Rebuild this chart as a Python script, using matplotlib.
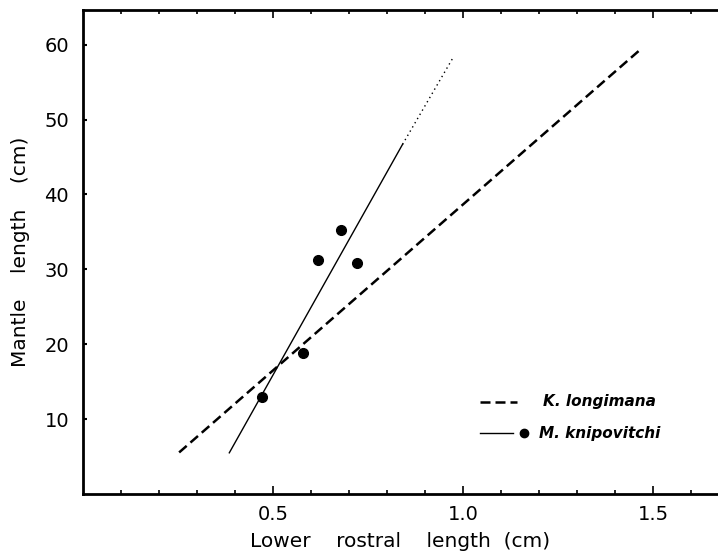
import matplotlib
matplotlib.use("Agg")
import matplotlib.pyplot as plt
import numpy as np

# Data
km_x = [0.472, 0.578, 0.619, 0.678, 0.722]      # M. knipovitchi observations
km_y = [13.0, 18.8, 31.3, 35.2, 30.9]
km_line_x = [0.385, 0.841]                      # fitted line (solid)
km_line_y = [5.5, 46.7]
km_ext_x = [0.841, 0.973]                       # extrapolation (dotted)
km_ext_y = [46.7, 58.2]
kl_line_x = [0.253, 1.470]                      # K. longimana line (dashed)
kl_line_y = [5.55, 59.5]

x_major = [0.5, 1.0, 1.5]
x_major_labels = ["0.5", "1.0", "1.5"]
x_minor = [0.1, 0.2, 0.3, 0.4, 0.6, 0.7, 0.8, 0.9, 1.1, 1.2, 1.3, 1.4, 1.6]
y_major = [10, 20, 30, 40, 50, 60]
y_major_labels = ["10", "20", "30", "40", "50", "60"]

fig = plt.figure(figsize=(7.18, 5.56), dpi=100)
ax = fig.add_axes([83/718, 62/556, 635/718, 484.5/556])

ax.plot(kl_line_x, kl_line_y, color="black", lw=1.8, dashes=(4, 2),
        solid_capstyle="butt", dash_capstyle="butt")
ax.plot(km_line_x, km_line_y, color="black", lw=1.0)
ax.plot(km_ext_x, km_ext_y, color="black", lw=1.0, linestyle=(0, (1, 2.5)))
ax.plot(km_x, km_y, "o", color="black", markersize=7, linestyle="none")

ax.set_xlim(0, 1.671)
ax.set_ylim(0, 64.7)

ax.set_xticks(x_major)
ax.set_xticklabels(x_major_labels)
ax.set_xticks(x_minor, minor=True)
ax.set_yticks(y_major)
ax.set_yticklabels(y_major_labels)

ax.tick_params(axis="x", which="major", direction="in", length=6, width=1.2, top=True, labelsize=14, pad=8)
ax.tick_params(axis="x", which="minor", direction="in", length=3, width=1.2, top=True)
ax.tick_params(axis="y", which="major", direction="in", length=3, width=1.5, right=False, labelsize=14, pad=10)

for s in ["left", "bottom", "top"]:
    ax.spines[s].set_linewidth(2)
ax.spines["right"].set_visible(False)

ax.set_xlabel("Lower    rostral    length  (cm)", fontsize=14.5, labelpad=6)
ax.set_ylabel("Mantle    length    (cm)", fontsize=14.5, labelpad=10)

# Legend (drawn manually)
t = ax.transAxes
ax.plot([0.625, 0.683], [0.1905, 0.1905], color="black", lw=1.8, dashes=(4, 2), transform=t)
ax.text(0.724, 0.1905, "K. longimana", transform=t, fontsize=11, fontweight="bold",
        style="italic", va="center", ha="left")
ax.plot([0.625, 0.677], [0.1253, 0.1253], color="black", lw=1.0, transform=t)
ax.plot([0.6945], [0.1253], "o", color="black", markersize=6, transform=t)
ax.text(0.718, 0.1253, "M. knipovitchi", transform=t, fontsize=11, fontweight="bold",
        style="italic", va="center", ha="left")

fig.savefig("out.png", dpi=100)
